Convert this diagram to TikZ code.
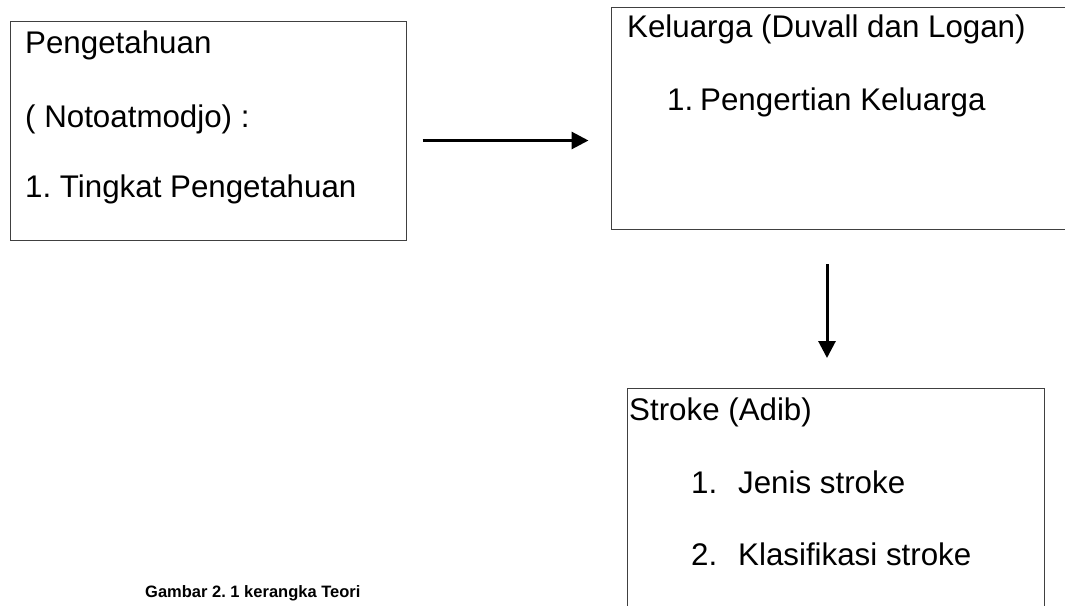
\documentclass[tikz,border=0pt]{standalone}
\usepackage{fontspec}
\setmainfont{Liberation Sans}
\usetikzlibrary{arrows.meta}
\frenchspacing
\begin{document}
\begin{tikzpicture}[x=1pt,y=-1pt,font=\fontsize{31.3}{37}\selectfont,
  kotak/.style={draw=black!75,line width=1pt,inner sep=0pt,anchor=north west},
  teks/.style={inner sep=0pt,anchor=base west},
  panah/.style={line width=3pt,-{Triangle[length=17pt,width=17pt]}}]
\useasboundingbox (0,0) rectangle (1065,605);
\clip (0,0) rectangle (1065,605);
\node[kotak,minimum width=396pt,minimum height=219pt] (peng) at (9.5,21) {};
\node[kotak,minimum width=470pt,minimum height=222pt] (kel) at (610.5,7) {};
\node[kotak,minimum width=417pt,minimum height=260pt] (str) at (626.5,388) {};
% isi kotak
\node[teks] (p1) at (25,53) {Pengetahuan};
\node[teks] (p2) at (25,127) {( Notoatmodjo) :};
\node[teks] (p3) at (25,197) {1. Tingkat Pengetahuan};
\node[teks] (k1) at (627,37) {Keluarga (Duvall dan Logan)};
\node[teks] (k2) at (667,110) {\makebox[33pt][l]{1.}Pengertian Keluarga};
\node[teks] (s1) at (629,420) {Stroke (Adib)};
\node[teks] (s2) at (691,493) {\makebox[47pt][l]{1.}Jenis stroke};
\node[teks] (s3) at (691,565) {\makebox[47pt][l]{2.}Klasifikasi stroke};
\node[teks,font=\fontsize{16.5}{20}\selectfont\bfseries] (cap) at (145,597) {Gambar 2. 1 kerangka Teori};
% panah
\draw[panah,shorten <=16pt,shorten >=22pt] ([yshift=-9.5pt]peng.east) -- ([yshift=-9.5pt]peng.east -| kel.west);
\draw[panah,shorten <=34pt,shorten >=30pt] ([xshift=-8.5pt]str.north |- kel.south) -- ([xshift=-8.5pt]str.north);
\end{tikzpicture}
\end{document}
